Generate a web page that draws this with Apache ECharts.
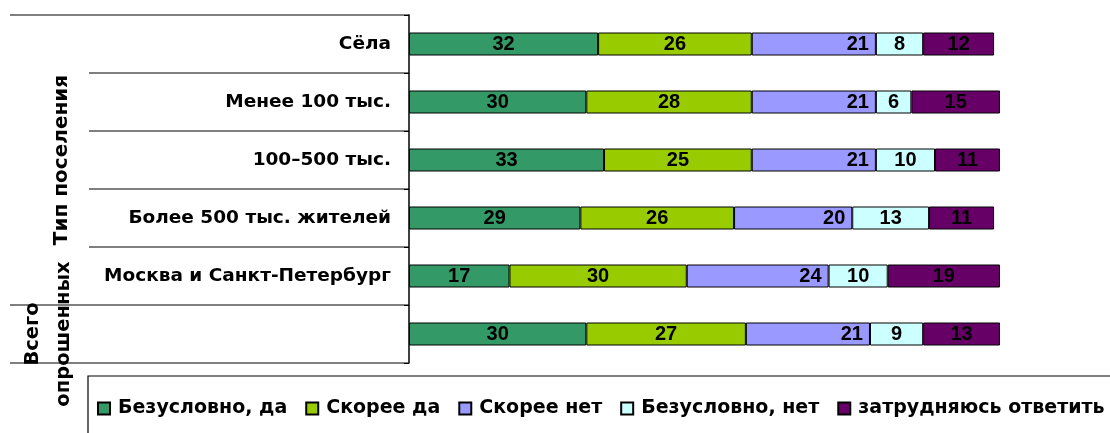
<!DOCTYPE html>
<html>
<head>
<meta charset="utf-8">
<script src="https://cdn.jsdelivr.net/npm/echarts@6/dist/echarts.min.js"></script>
<style>
  html, body { margin: 0; padding: 0; background: #fff; }
  #chart { width: 1110px; height: 433px; }
</style>
</head>
<body>
<div id="chart"></div>
<script>
// категории (сверху вниз)
var categories = ['Сёла', 'Менее 100 тыс.', '100–500 тыс.', 'Более 500 тыс. жителей', 'Москва и Санкт-Петербург', ''];
var seriesNames = ['Безусловно, да', 'Скорее да', 'Скорее нет', 'Безусловно, нет', 'затрудняюсь ответить'];
var colors = ['#339966', '#99CC00', '#9999FF', '#CCFFFF', '#660066'];

var yesSure = [32, 30, 33, 29, 17, 30];
var ratherYes = [26, 28, 25, 26, 30, 27];
var ratherNo = [21, 21, 21, 20, 24, 21];
var noSure = [8, 6, 10, 13, 10, 9];
var hardToSay = [12, 15, 11, 11, 19, 13];

var values = [yesSure, ratherYes, ratherNo, noSure, hardToSay];

var narrow = '"Liberation Sans", Arial, sans-serif';
var wide = '"DejaVu Sans", sans-serif';

var myChart = echarts.init(document.getElementById('chart'), null, { renderer: 'canvas' });

var series = values.map(function (d, i) {
  return {
    name: seriesNames[i],
    type: 'bar',
    stack: 'all',
    data: d,
    barWidth: 23,
    itemStyle: { color: colors[i], borderColor: '#000', borderWidth: 1 },
    label: {
      show: true,
      position: i === 2 ? 'insideRight' : 'inside',
      distance: 7,
      color: '#000',
      fontFamily: narrow,
      fontWeight: 'bold',
      fontSize: 20
    }
  };
});

var option = {
  animation: false,
  grid: { left: 409, right: 110, top: 15, bottom: 70 },
  xAxis: {
    type: 'value', min: 0, max: 100, show: false
  },
  yAxis: {
    type: 'category',
    inverse: true,
    data: categories,
    axisLine: { show: true, lineStyle: { color: '#000', width: 1.5 } },
    axisTick: { show: true, length: 5, lineStyle: { color: '#000' } },
    axisLabel: {
      color: '#000', fontFamily: wide, fontWeight: 'bold', fontSize: 18.5, margin: 18
    }
  },
  legend: {
    data: seriesNames,
    left: 97, top: 399,
    padding: 0,
    icon: 'rect',
    itemWidth: 12, itemHeight: 12, itemGap: 18,
    textStyle: { color: '#000', fontFamily: wide, fontWeight: 'bold', fontSize: 19, padding: [0, 0, 0, 3] }
  },
  series: series
};

myChart.setOption(option);

// линии таблицы слева от оси
var x0 = 409;
var bounds = [];
for (var k = 0; k <= categories.length; k++) {
  bounds.push(15 + k * (348 / categories.length));
}
var graphic = [];
bounds.forEach(function (y, k) {
  var left = (k === 0 || k >= 5) ? 10 : 89;
  graphic.push({ type: 'line', shape: { x1: left, y1: y, x2: x0, y2: y }, style: { stroke: '#000', lineWidth: 1.2 } });
});
graphic.push({
  type: 'text', x: 62, y: (bounds[0] + bounds[5]) / 2, rotation: Math.PI / 2,
  style: { text: 'Тип поселения', fill: '#000', font: 'bold 20px ' + wide, align: 'center', verticalAlign: 'middle' }
});
graphic.push({
  type: 'text', x: 48, y: (bounds[5] + bounds[6]) / 2, rotation: Math.PI / 2,
  style: { text: 'Всего\nопрошенных', fill: '#000', font: 'bold 19.5px ' + wide, align: 'center', verticalAlign: 'middle', lineHeight: 31 }
});
graphic.push({
  type: 'rect', shape: { x: 88, y: 376, width: 1040, height: 80 },
  style: { fill: 'none', stroke: '#000', lineWidth: 1.2 }
});
myChart.setOption({ graphic: graphic });
</script>
</body>
</html>
